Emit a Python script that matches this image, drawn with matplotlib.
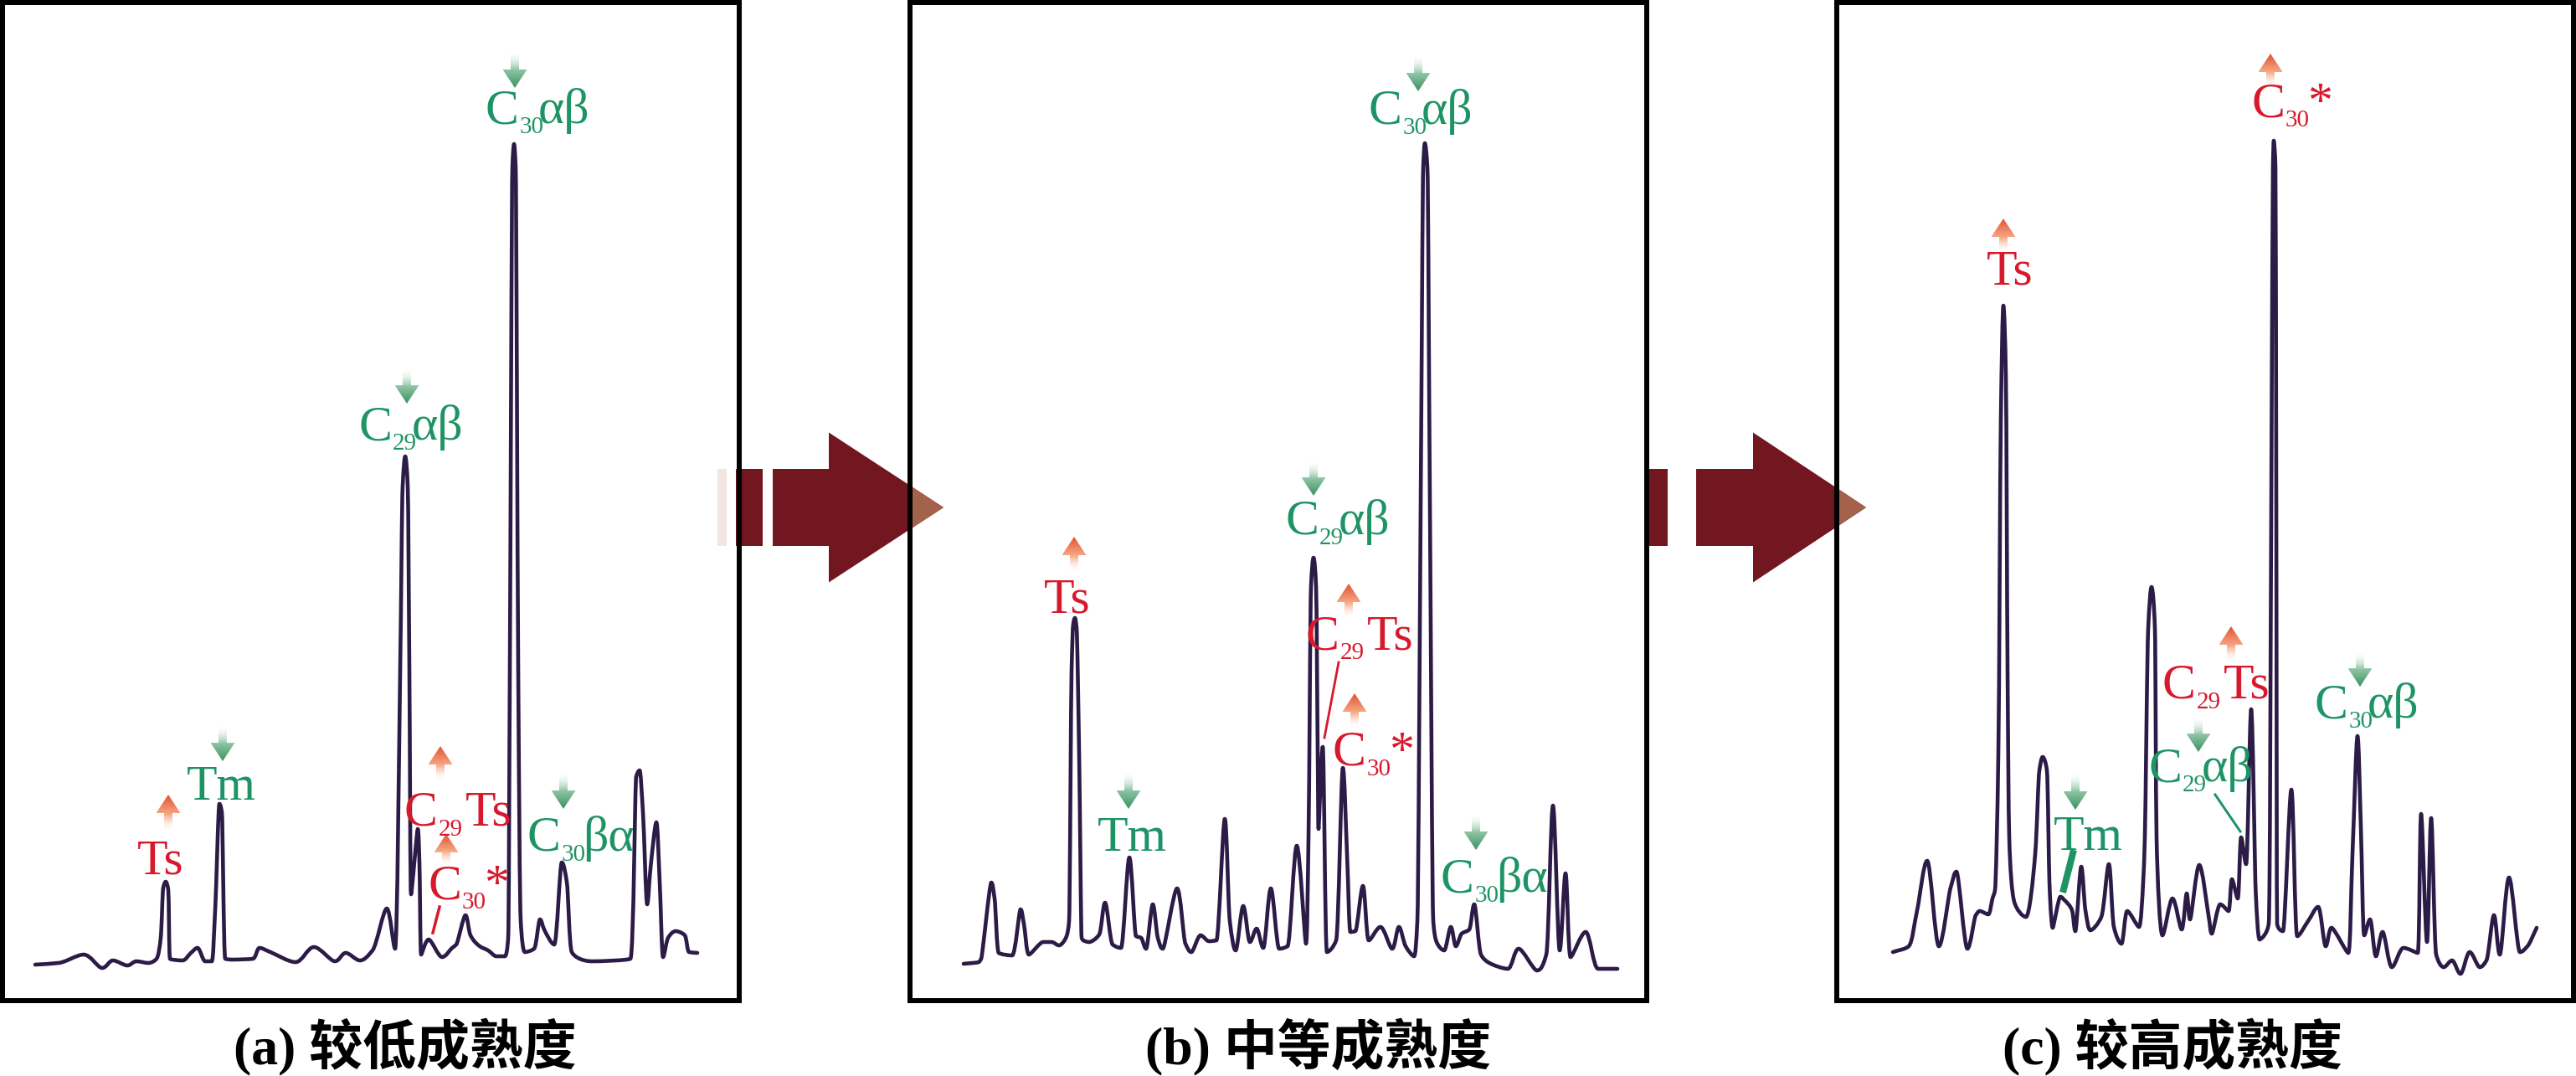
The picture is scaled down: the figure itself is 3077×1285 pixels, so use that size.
import numpy as np
import matplotlib
matplotlib.use('Agg')
import matplotlib.pyplot as plt
from matplotlib import font_manager
from matplotlib.patches import Polygon, Rectangle, PathPatch
from matplotlib.path import Path
from matplotlib.colors import LinearSegmentedColormap
from matplotlib.transforms import offset_copy

# ---- 色谱数据 (保留时间, 丰度), 坐标与面板框内像素一致 ----
a_rt = [39, 67, 97, 119, 132, 149, 160, 174, 184, 189, 192, 195, 198, 200, 215, 225, 233, 242, 250,
        254, 259, 262, 266, 275, 299, 307, 320, 350, 372, 397, 410, 427, 442, 459, 469, 475, 478, 481,
        484, 486, 488, 496, 498, 500, 509, 525, 537, 542, 553, 559, 570, 580, 590, 600, 604, 606, 609,
        611, 613, 616, 619, 624, 635, 642, 647, 659, 668, 674, 680, 704, 750, 757, 761, 765, 770, 774,
        781, 785, 789, 795, 804, 815, 820, 830]
a_ab = [43, 45, 55, 39, 48, 42, 47, 45, 50, 75, 135, 142, 132, 50, 48, 57, 63, 47, 47,
        108, 235, 225, 50, 49, 50, 63, 58, 46, 64, 47, 57, 48, 60, 110, 62, 395, 615, 650,
        615, 395, 127, 205, 165, 55, 73, 52, 63, 67, 102, 78, 65, 60, 53, 53, 75, 395, 995,
        1023, 995, 395, 95, 58, 62, 97, 85, 67, 165, 142, 58, 47, 50, 268, 275, 225, 115, 158,
        213, 142, 52, 75, 83, 78, 58, 57]

b_rt = [64, 82, 85, 97, 101, 106, 122, 132, 136, 142, 159, 169, 178, 187, 190, 193, 195, 197, 199,
        202, 205, 207, 214, 226, 233, 242, 252, 262, 270, 276, 282, 290, 296, 302, 319, 329, 336, 347,
        357, 366, 376, 382, 389, 398, 406, 414, 422, 431, 441, 451, 462, 473, 476, 479, 482, 485, 487,
        488, 493, 498, 509, 517, 522, 526, 532, 541, 548, 562, 576, 584, 592, 602, 606, 610, 613, 615,
        618, 621, 625, 629, 638, 646, 652, 659, 668, 674, 682, 692, 714, 727, 749, 760, 768, 776, 783,
        789, 807, 822, 845]
b_ab = [44, 46, 50, 141, 122, 57, 54, 109, 92, 55, 70, 70, 66, 77, 95, 395, 450, 457, 445,
        295, 75, 72, 70, 79, 117, 67, 63, 171, 77, 75, 62, 115, 75, 62, 134, 68, 58, 78,
        71, 72, 217, 95, 60, 113, 70, 86, 63, 134, 62, 65, 185, 68, 195, 495, 529, 495, 295,
        205, 303, 58, 72, 278, 175, 82, 83, 137, 72, 88, 62, 88, 65, 53, 95, 595, 995, 1024,
        995, 595, 95, 70, 60, 88, 65, 80, 85, 115, 55, 45, 38, 62, 36, 55, 233, 60, 152,
        52, 82, 38, 38]

c_rt = [67, 86, 96, 108, 122, 136, 143, 156, 166, 171, 181, 186, 189, 193, 196, 199, 202, 204, 206,
        212, 226, 237, 242, 246, 251, 254, 256, 258, 267, 272, 281, 285, 292, 297, 303, 316, 325, 331,
        340, 347, 361, 366, 368, 372, 376, 380, 382, 389, 401, 412, 418, 422, 433, 444, 448, 458, 468,
        472, 479, 483, 489, 495, 500, 501, 505, 516, 519, 521, 522, 524, 525, 526, 533, 543, 550, 563,
        575, 584, 591, 611, 616, 622, 626, 630, 637, 644, 652, 663, 677, 694, 698, 705, 710, 716, 725,
        735, 745, 756, 768, 776, 785, 792, 803, 816, 825, 836]
c_ab = [58, 65, 108, 167, 65, 135, 154, 62, 102, 107, 103, 122, 132, 295, 695, 830, 745, 395, 195,
        118, 100, 175, 275, 291, 275, 142, 102, 87, 124, 120, 108, 83, 160, 108, 84, 100, 163, 88,
        68, 107, 88, 142, 195, 445, 494, 445, 195, 78, 122, 85, 128, 97, 162, 102, 80, 115, 107,
        145, 122, 195, 163, 348, 142, 118, 73, 92, 595, 995, 1027, 995, 595, 92, 83, 252, 77, 95,
        112, 65, 87, 57, 175, 316, 208, 78, 97, 53, 82, 40, 63, 57, 223, 70, 218, 55, 40,
        48, 32, 58, 40, 48, 102, 55, 147, 58, 65, 87]

captions = ['(a) 较低成熟度', '(b) 中等成熟度', '(c) 较高成熟度']

# 标注: (类型, 文字x, 文字基线y, 箭头x, 箭尾y, 箭头尖y)
a_labels = [('Ts', 189, 152, 198, 203, 246), ('Tm', 261, 240, 263, 328, 286),
            ('C29ab', 488, 670, 483, 754, 713), ('C30ab', 639, 1048, 612, 1133, 1090),
            ('C29Ts', 544, 209, 523, 263, 304), ('C30s', 508, 122, 530, 162, 199),
            ('C30ba', 691, 179, 670, 272, 229)]
b_labels = [('Ts', 188, 463, 196, 513, 554), ('Tm', 265, 179, 261, 273, 229),
            ('C29ab', 511, 557, 482, 644, 603), ('C30ab', 610, 1047, 607, 1128, 1086),
            ('C29Ts', 537, 420, 524, 457, 498), ('C30s', 505, 281, 531, 326, 367),
            ('C30ba', 698, 130, 676, 222, 180)]
c_labels = [('Ts', 207, 855, 199, 893, 934), ('C30s', 495, 1056, 518, 1091, 1131),
            ('C29Ts', 453, 361, 471, 405, 447), ('C29ab', 435, 262, 432, 338, 297),
            ('C30ab', 633, 338, 625, 416, 375), ('Tm', 300, 180, 285, 272, 228)]

# 引线: (起点, 终点, 颜色, 线宽px)
a_leaders = [((522, 112), (514, 81), 'red', 3.5)]
b_leaders = [((512, 404), (495, 314), 'red', 2.8)]
c_leaders = [((452, 246), (482, 202), 'green', 3.0), ((282, 176), (271, 133), 'green', 8.0)]

# ---- 样式 ----
W, H = 3077, 1285
PANEL_LEFT = [3, 1087, 2194]
PANEL_TOP, PANEL_W, PANEL_H = 3, 880, 1192
TRACE = '#2B1B46'
RED = '#D8192C'
GREEN = '#1E9466'
DARK = '#721720'
BIG, SUB = 43, 21

_installed = {f.name for f in font_manager.fontManager.ttflist}
SERIF = next((n for n in ['Liberation Serif', 'DejaVu Serif'] if n in _installed), 'serif')

LABEL_STYLE = {
    'Ts': ([('Ts', BIG, 0, 0)], RED, 'center'),
    'Tm': ([('Tm', BIG, 0, 0)], GREEN, 'center'),
    'C29ab': ([('C', BIG, 0, 1), ('29', SUB, 12, -6), ('αβ', BIG, 0, 0)], GREEN, 'center'),
    'C30ab': ([('C', BIG, 0, 1), ('30', SUB, 12, -6), ('αβ', BIG, 0, 0)], GREEN, 'center'),
    'C30ba': ([('C', BIG, 0, 1), ('30', SUB, 12, -3), ('βα', BIG, 0, 0)], GREEN, 'center'),
    'C29Ts': ([('C', BIG, 0, 1), ('29', SUB, 12, 3), ('Ts', BIG, 0, 0)], RED, 'center'),
    'C30s': ([('C', BIG, 0, 1), ('30', SUB, 12, -3), ('*', BIG, 0, 0)], RED, 'left'),
}
COLORS = {'red': RED, 'green': GREEN}

UP_CMAP = LinearSegmentedColormap.from_list(
    'up', [(0.0, (1.0, 0.95, 0.92, 0.0)), (0.45, (0.96, 0.66, 0.52, 1.0)), (1.0, (0.89, 0.33, 0.20, 1.0))])
DOWN_CMAP = LinearSegmentedColormap.from_list(
    'down', [(0.0, (0.93, 0.97, 0.94, 0.0)), (0.5, (0.55, 0.77, 0.64, 1.0)), (1.0, (0.24, 0.57, 0.38, 1.0))])

px = 0.72  # 1 像素对应的磅值 (dpi=100)

fig = plt.figure(figsize=(W / 100, H / 100), dpi=100, facecolor='white')
renderer = fig.canvas.get_renderer()


def trace_path(x, y):
    # 单调三次贝塞尔曲线穿过每个读取点 (只是平滑的画线方式)
    p = np.column_stack([x, y]).astype(float)
    n = len(p)
    d = np.diff(p, axis=0)
    m = np.zeros_like(p)
    for k in range(2):
        dk = d[:, k]
        m[0, k], m[-1, k] = dk[0], dk[-1]
        for i in range(1, n - 1):
            a, b = dk[i - 1], dk[i]
            m[i, k] = 0.0 if a * b <= 0 else 2 * a * b / (a + b)
    verts, codes = [p[0]], [Path.MOVETO]
    for i in range(n - 1):
        verts += [p[i] + m[i] / 3, p[i + 1] - m[i + 1] / 3, p[i + 1]]
        codes += [Path.CURVE4] * 3
    return Path(verts, codes)


def grad_arrow(ax, x, tail, tip):
    d = 1 if tip > tail else -1
    neck = tip - d * 22
    hw, sw = 14.5, 5
    verts = [(x - sw, tail), (x - sw, neck), (x - hw, neck), (x, tip),
             (x + hw, neck), (x + sw, neck), (x + sw, tail)]
    poly = Polygon(verts, closed=True, facecolor='none', edgecolor='none', transform=ax.transData)
    ax.add_patch(poly)
    g = np.linspace(0, 1, 64).reshape(-1, 1)
    if d < 0:
        g = g[::-1]
    ax.imshow(g, cmap=UP_CMAP if d > 0 else DOWN_CMAP, origin='lower', aspect='auto',
              extent=(x - hw, x + hw, min(tail, tip), max(tail, tip)),
              interpolation='bilinear', clip_path=poly, zorder=3)


def rich_label(ax, x, y, kind):
    runs, color, align = LABEL_STYLE[kind]
    parts = []
    for s, size, dy, gap in runs:
        t = ax.text(x, y, s, fontsize=size, color=color, family=SERIF,
                    ha='left', va='baseline', zorder=4)
        parts.append((t, dy, t.get_window_extent(renderer).width, gap))
    total = sum(w + g for _, _, w, g in parts) - parts[-1][3]
    off = -total / 2 if align == 'center' else 0.0
    for t, dy, w, g in parts:
        t.set_transform(offset_copy(ax.transData, fig=fig, x=off, y=-dy, units='dots'))
        off += w + g


panels = [(a_rt, a_ab, a_labels, a_leaders), (b_rt, b_ab, b_labels, b_leaders),
          (c_rt, c_ab, c_labels, c_leaders)]

for left, (rt, ab, labels, leaders) in zip(PANEL_LEFT, panels):
    ax = fig.add_axes([left / W, (H - PANEL_TOP - PANEL_H) / H, PANEL_W / W, PANEL_H / H])
    ax.set_xlim(0, PANEL_W)
    ax.set_ylim(0, PANEL_H)
    ax.axis('off')
    ax.add_patch(PathPatch(trace_path(rt, ab), facecolor='none', edgecolor=TRACE, lw=4.6 * px,
                           joinstyle='round', capstyle='round', zorder=2))
    for kind, tx, ty, axx, tail, tip in labels:
        rich_label(ax, tx, ty, kind)
        grad_arrow(ax, axx, tail, tip)
    for p0, p1, col, lw in leaders:
        ax.plot([p0[0], p1[0]], [p0[1], p1[1]], color=COLORS[col], lw=lw * px, zorder=3)
    ax.set_xlim(0, PANEL_W)
    ax.set_ylim(0, PANEL_H)

# ---- 覆盖层: 大箭头, 边框, 图注 ----
ov = fig.add_axes([0, 0, 1, 1])
ov.set_xlim(0, W)
ov.set_ylim(H, 0)
ov.axis('off')
ov.patch.set_alpha(0)


def big_arrow(x0, x1, x2, x3, frame_x, tip_x, faint=None):
    ymid, sh, hh = 606, 46, 89.5
    if faint:
        ov.add_patch(Rectangle((faint[0], ymid - sh), faint[1] - faint[0], 2 * sh,
                               facecolor='#F2E6E0', edgecolor='none', zorder=2))
    ov.add_patch(Rectangle((x0, ymid - sh), x1 - x0, 2 * sh, facecolor=DARK, edgecolor='none', zorder=2))
    ov.add_patch(Polygon([(x2, ymid - sh), (x3, ymid - sh), (x3, ymid - hh), (tip_x, ymid),
                          (x3, ymid + hh), (x3, ymid + sh), (x2, ymid + sh)],
                         closed=True, facecolor=DARK, edgecolor='none', zorder=2))
    h = (tip_x - frame_x) / (tip_x - x3) * hh
    ov.add_patch(Polygon([(frame_x, ymid - h), (tip_x, ymid), (frame_x, ymid + h)],
                         closed=True, facecolor='#A3624C', edgecolor='none', zorder=2.5))


big_arrow(879, 911, 923, 990, PANEL_LEFT[1], 1127, faint=(857, 868))
big_arrow(1969, 1992, 2026, 2094, PANEL_LEFT[2], 2229)

for left in PANEL_LEFT:
    ov.add_patch(Rectangle((left, PANEL_TOP), PANEL_W, PANEL_H, facecolor='none',
                           edgecolor='black', lw=6 * px, zorder=5))

for cx, text in zip([484, 1575, 2595], captions):
    ov.text(cx, 1250, text, ha='center', va='center', fontsize=46, fontweight='bold',
            family=[SERIF, 'Noto Sans CJK SC'], color='black')

fig.savefig('out.png', dpi=100, facecolor='white')
